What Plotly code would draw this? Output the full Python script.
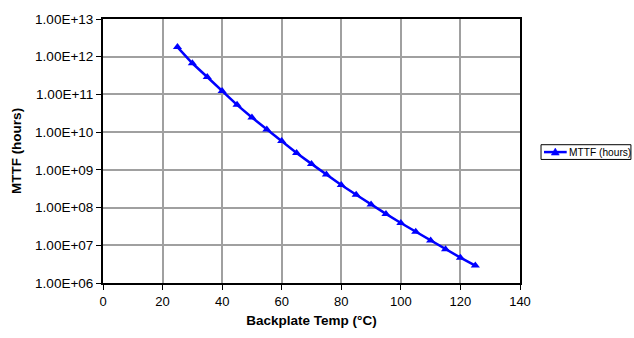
import plotly.graph_objects as go

temps = [25, 30, 35, 40, 45, 50, 55, 60, 65, 70, 75, 80, 85, 90, 95, 100, 105, 110, 115, 120, 125]
mttf_hours = [1.8e12, 6.7e11, 2.9e11, 1.23e11, 5.3e10, 2.45e10, 1.17e10, 5.8e9, 2.8e9,
              1.44e9, 7.5e8, 3.95e8, 2.18e8, 1.2e8, 6.8e7, 3.9e7, 2.28e7, 1.33e7, 7.8e6, 4.7e6, 2.9e6]
y_tickvals = [1e6, 1e7, 1e8, 1e9, 1e10, 1e11, 1e12, 1e13]
y_ticktext = ["1.00E+06", "1.00E+07", "1.00E+08", "1.00E+09", "1.00E+10", "1.00E+11", "1.00E+12", "1.00E+13"]
x_tickvals = [0, 20, 40, 60, 80, 100, 120, 140]
series_name = "MTTF (hours)"

BLUE = "#0000FF"
font = "Liberation Sans, Arial, sans-serif"

fig = go.Figure()
fig.add_trace(go.Scatter(
    x=temps, y=mttf_hours, mode="lines+markers", name=series_name,
    line=dict(color=BLUE, width=2.5),
    marker=dict(symbol="triangle-up", size=8, color=BLUE),
    showlegend=False,
))

# manual legend (outside the plot area, right side)
lx0, lx1, ly0, ly1 = 1.0504, 1.266, 0.468, 0.5238
ly = (ly0 + ly1) / 2
fig.add_shape(type="rect", xref="paper", yref="paper", x0=lx0, x1=lx1, y0=ly0, y1=ly1,
              line=dict(color="black", width=1), fillcolor="white", layer="above")
fig.add_shape(type="line", xref="paper", yref="paper", x0=1.0575, x1=1.112, y0=ly, y1=ly,
              line=dict(color=BLUE, width=2.5), layer="above")
fig.add_shape(type="path", xref="paper", yref="paper", xsizemode="pixel", ysizemode="pixel",
              xanchor=1.0846, yanchor=ly, path="M -4,-3 L 4,-3 L 0,4 Z",
              fillcolor=BLUE, line=dict(color=BLUE, width=0.5), layer="above")
fig.add_annotation(xref="paper", yref="paper", x=1.112, y=ly, xanchor="left", yanchor="middle",
                   text=series_name, showarrow=False, font=dict(size=10.2, family=font, color="black"))

fig.update_layout(
    width=634, height=338,
    margin=dict(l=103, r=114, t=14, b=55),
    paper_bgcolor="white", plot_bgcolor="white",
    font=dict(family=font, size=13, color="black"),
    showlegend=False,
    xaxis=dict(range=[0, 140], tickvals=x_tickvals, showgrid=True, gridcolor="#A0A0A0", gridwidth=2,
               showline=True, linecolor="black", linewidth=2, mirror=True,
               ticks="outside", ticklen=5, tickcolor="black", zeroline=False,
               tickfont=dict(size=13),
               title=dict(text="<b>Backplate Temp (°C)</b>", font=dict(size=13.5), standoff=8)),
    yaxis=dict(type="log", range=[6, 13], tickvals=y_tickvals, ticktext=y_ticktext,
               showgrid=True, gridcolor="#A0A0A0", gridwidth=2,
               showline=True, linecolor="black", linewidth=2, mirror=True,
               ticks="outside", ticklen=5, tickcolor="black", zeroline=False,
               tickfont=dict(size=13.5),
               title=dict(text="<b>MTTF (hours)</b>", font=dict(size=13.5), standoff=10)),
)

# remove the browser's default 8px body margin and scrollbars so the figure fills the window
fig.write_html(
    "out.html",
    config={"displayModeBar": False},
    post_script="document.body.style.margin='0';document.documentElement.style.overflow='hidden';document.body.style.overflow='hidden';",
)
